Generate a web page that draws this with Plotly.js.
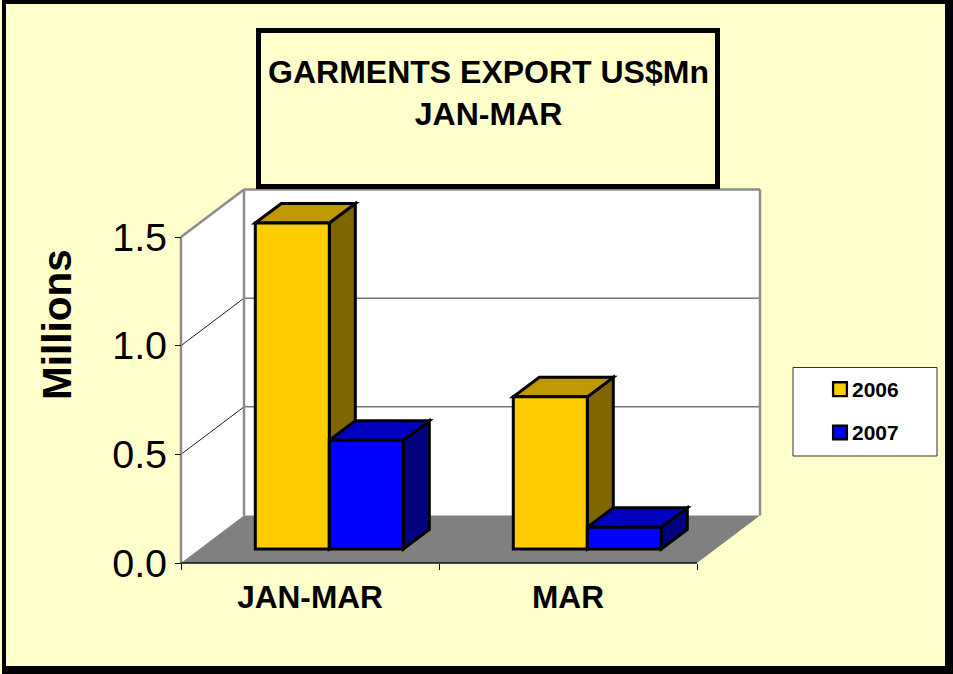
<!DOCTYPE html>
<html>
<head>
<meta charset="utf-8">
<script src="https://cdn.plot.ly/plotly-3.0.1.min.js"></script>
<style>html,body{margin:0;padding:0;background:#FFFFCC}#chart{width:953px;height:674px}</style>
</head>
<body>
<div id="chart"></div>
<script>
var categories = ['JAN-MAR', 'MAR'];
var years = ['2006', '2007'];
var values2006 = [1.5, 0.7];
var values2007 = [0.5, 0.1];
var yTicks = [0, 0.5, 1, 1.5];
var yTickText = ['0.0', '0.5', '1.0', '1.5'];
var frontColors = ['#FFCC00', '#0000FF'];
var topColors = ['#C09900', '#0000C0'];
var sideColors = ['#806600', '#000080'];

var W = 953, H = 674;
var pxPerX = 258, pxPerY = 217.33;           // plot scale
var originX = 181, originY = 563;            // front-plane origin, pixels
var wallDX = 63 / pxPerX, wallDY = 47.5 / pxPerY;   // oblique depth of the floor
var barShiftX = 19.3 / pxPerX, barBaseY = 14 / pxPerY; // bars stand this far into the floor
var barDX = 26 / pxPerX, barDY = 19.5 / pxPerY;  // bar depth
var barWidth = 74 / pxPerX;
var xMax = 2, yMax = 1.5;

function px(p) { return p / W; }
function py(p) { return 1 - p / H; }
function poly(pts) {
  return 'M' + pts.map(function (q) { return q[0] + ',' + q[1]; }).join('L') + 'Z';
}
function dataPath(pts, fill, lineColor, lineWidth) {
  return { type: 'path', xref: 'x', yref: 'y', layer: 'below', path: poly(pts),
    fillcolor: fill, line: { color: lineColor, width: lineWidth } };
}
function dataLine(x0, y0, x1, y1, color, width) {
  return { type: 'line', xref: 'x', yref: 'y', layer: 'below', x0: x0, y0: y0, x1: x1, y1: y1,
    line: { color: color, width: width } };
}
function paperRect(x0, y0, x1, y1, fill, color, width, layer) {
  return { type: 'rect', xref: 'paper', yref: 'paper', layer: layer || 'below',
    x0: px(x0), x1: px(x1), y0: py(y1), y1: py(y0), fillcolor: fill,
    line: { color: color, width: width } };
}

var shapes = [];
// page frame with its drop shadow
shapes.push(paperRect(2, 0, 953, 674, '#000000', '#000000', 0));
shapes.push(paperRect(6, 4, 945, 666, '#FFFFCC', '#000000', 0));
// walls and floor
var gray = '#8C8C8C';
shapes.push(dataPath([[0, 0], [wallDX, wallDY], [wallDX, yMax + wallDY], [0, yMax]], '#FFFFFF', '#FFFFFF', 0));
shapes.push(dataPath([[wallDX, wallDY], [xMax + wallDX, wallDY], [xMax + wallDX, yMax + wallDY], [wallDX, yMax + wallDY]], '#FFFFFF', '#FFFFFF', 0));
shapes.push(dataPath([[0, 0], [wallDX, wallDY], [xMax + wallDX, wallDY], [xMax, 0]], '#808080', '#808080', 0));
// gridlines
[0.5, 1].forEach(function (v) {
  shapes.push(dataLine(0, v, wallDX, v + wallDY, '#222222', 1));
  shapes.push(dataLine(wallDX, v + wallDY, xMax + wallDX, v + wallDY, '#333333', 1));
});
// wall edges
shapes.push(dataLine(wallDX, wallDY, wallDX, yMax + wallDY, gray, 2.5));
shapes.push(dataLine(wallDX, yMax + wallDY, xMax + wallDX, yMax + wallDY, gray, 2.5));
shapes.push(dataLine(xMax + wallDX, wallDY, xMax + wallDX, yMax + wallDY, gray, 2.5));
shapes.push(dataLine(0, yMax, wallDX, yMax + wallDY, gray, 2.5));
shapes.push(dataLine(0, 0, 0, yMax, gray, 2.5));
// x axis line
shapes.push(dataLine(0, 0, xMax, 0, '#111111', 1.5));

// side and top faces of each bar, computed from the values
var series = [values2006, values2007];
categories.forEach(function (c, i) {
  series.forEach(function (vals, s) {
    var xl = i + 0.5 + barShiftX + (s - 1) * barWidth;
    var xr = xl + barWidth;
    var b = barBaseY, t = barBaseY + vals[i];
    shapes.push(dataPath([[xr, b], [xr + barDX, b + barDY], [xr + barDX, t + barDY], [xr, t]], sideColors[s], '#000000', 3));
    shapes.push(dataPath([[xl, t], [xr, t], [xr + barDX, t + barDY], [xl + barDX, t + barDY]], topColors[s], '#000000', 3));
  });
});

// title box and legend box
shapes.push(paperRect(258.5, 30.5, 717.5, 186.5, '#FFFFCC', '#000000', 5, 'above'));
shapes.push(paperRect(793, 367.5, 937, 456, '#FFFFFF', '#333333', 1, 'above'));

var traces = series.map(function (vals, s) {
  return {
    type: 'bar', name: '<span style="font-size:21px">' + years[s] + '</span>',
    x: categories.map(function (c, i) { return i + 0.5 + barShiftX; }),
    y: vals,
    base: vals.map(function () { return barBaseY; }),
    width: barWidth,
    offset: (s - 1) * barWidth,
    marker: { color: frontColors[s], line: { color: '#000000', width: 3 } },
    hoverinfo: 'skip'
  };
});

var font = 'Liberation Sans, Arial, sans-serif';
var leftPx = 170, rightPx = 775, topPx = 175, bottomPx = 575;
var layout = {
  width: W, height: H,
  margin: { l: 0, r: 0, t: 0, b: 0, autoexpand: false },
  paper_bgcolor: '#FFFFCC', plot_bgcolor: 'rgba(0,0,0,0)',
  barmode: 'overlay',
  font: { family: font, color: '#000000' },
  title: {
    text: '<b>GARMENTS EXPORT US$Mn<br>JAN-MAR</b>',
    x: px(488.5), xanchor: 'center', xref: 'paper',
    y: py(83), yanchor: 'top', yref: 'paper',
    font: { family: font, size: 32, color: '#000000' }
  },
  xaxis: {
    domain: [px(leftPx), px(rightPx)],
    range: [(leftPx - originX) / pxPerX, (rightPx - originX) / pxPerX],
    anchor: 'free', position: py(originY),
    showline: false, showgrid: false, zeroline: false,
    tickmode: 'array', tickvals: [0.5, 1.5], ticktext: categories.map(function (c) { return '<b>' + c + '</b>'; }),
    ticks: '', tickfont: { family: font, size: 31.6 }, ticklabelstandoff: 12,
    minor: { tickmode: 'array', tickvals: [0, 1, 2], ticks: 'outside', ticklen: 6, tickwidth: 1, tickcolor: '#111111', showgrid: false },
    automargin: false
  },
  yaxis: {
    domain: [py(bottomPx), py(topPx)],
    range: [(originY - bottomPx) / pxPerY, (originY - topPx) / pxPerY],
    anchor: 'free', position: px(originX),
    showline: false, showgrid: false, zeroline: false,
    tickmode: 'array', tickvals: yTicks, ticktext: yTickText,
    ticks: 'outside', ticklen: 6, tickwidth: 1, tickcolor: '#111111',
    tickfont: { family: font, size: 39.5 }, automargin: false
  },
  legend: {
    x: px(812), xanchor: 'left', y: py(358), yanchor: 'top',
    font: { family: font, size: 31, weight: 'bold', color: '#000000' },
    bgcolor: 'rgba(0,0,0,0)', borderwidth: 0, traceorder: 'normal',
    itemclick: false, itemdoubleclick: false
  },
  showlegend: true,
  annotations: [{
    text: '<b>Millions</b>', xref: 'paper', yref: 'paper', x: px(57), y: py(325),
    xanchor: 'center', yanchor: 'middle', textangle: -90, showarrow: false,
    font: { family: font, size: 40.5, color: '#000000' }
  }],
  shapes: shapes
};
Plotly.newPlot('chart', traces, layout, { displayModeBar: false, responsive: false }).then(function (gd) {
  // swatches sit closer to the text than Plotly's default legend gap
  gd.querySelectorAll('.legend .traces .legendpoints path').forEach(function (p) {
    p.setAttribute('transform', 'translate(28,4.5) scale(1.15)');
    p.style.stroke = '#000000';
    p.style.strokeWidth = '2px';
  });
});
</script>
</body>
</html>
